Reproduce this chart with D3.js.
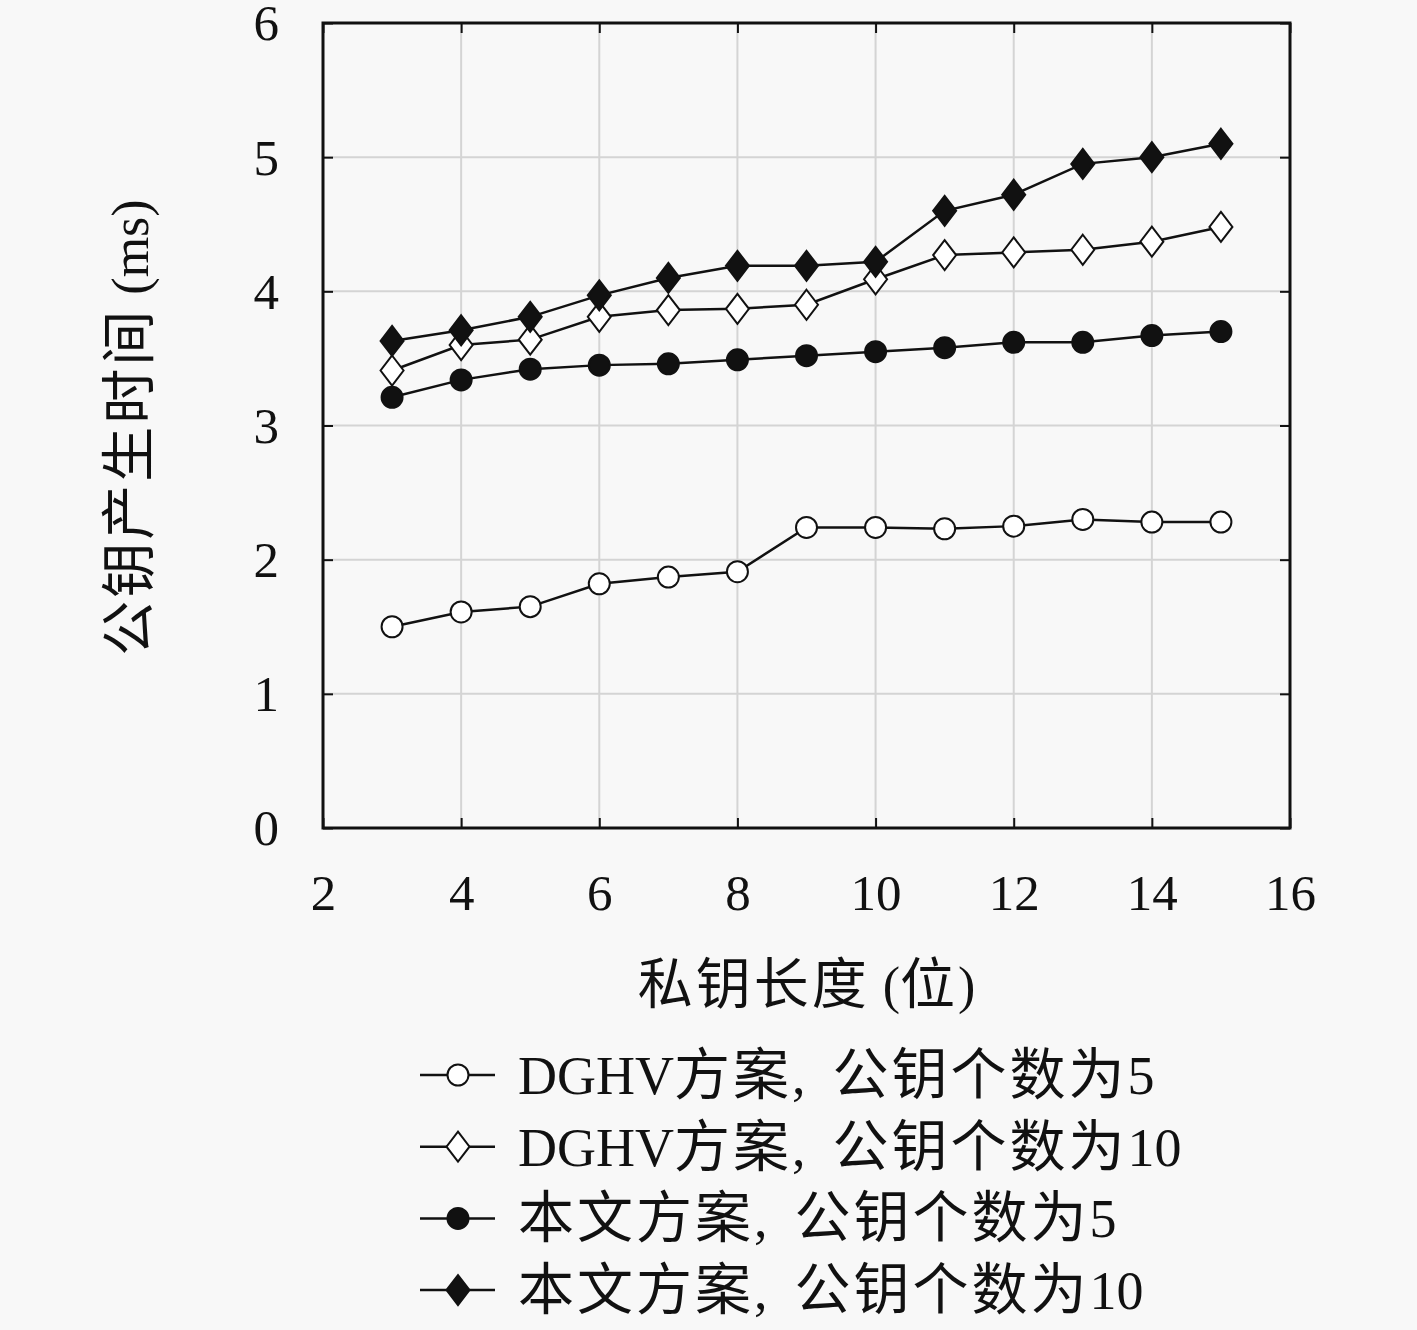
<!DOCTYPE html>
<html>
<head>
<meta charset="utf-8">
<script src="https://cdn.jsdelivr.net/npm/d3@7"></script>
<style>
  body { margin: 0; background: #f8f8f8; }
  text { font-family: "Liberation Serif", "DejaVu Serif", "Noto Sans CJK SC", serif; fill: #111; }
</style>
</head>
<body>
<div id="chart"></div>
<script>
// key length (bits)
const keyLengths = [3, 4, 5, 6, 7, 8, 9, 10, 11, 12, 13, 14, 15];
const dghv5  = [1.50, 1.61, 1.65, 1.82, 1.87, 1.91, 2.24, 2.24, 2.23, 2.25, 2.30, 2.28, 2.28];
const dghv10 = [3.41, 3.60, 3.64, 3.81, 3.86, 3.87, 3.90, 4.09, 4.27, 4.29, 4.31, 4.37, 4.48];
const ours5  = [3.21, 3.34, 3.42, 3.45, 3.46, 3.49, 3.52, 3.55, 3.58, 3.62, 3.62, 3.67, 3.70];
const ours10 = [3.63, 3.71, 3.81, 3.97, 4.10, 4.19, 4.19, 4.22, 4.60, 4.72, 4.95, 5.00, 5.10];

const xTicks = [2, 4, 6, 8, 10, 12, 14, 16];
const yTicks = [0, 1, 2, 3, 4, 5, 6];

const seriesNames = [
  "DGHV方案, 公钥个数为5",
  "DGHV方案, 公钥个数为10",
  "本文方案, 公钥个数为5",
  "本文方案, 公钥个数为10"
];
const seriesValues = [dghv5, dghv10, ours5, ours10];
const seriesShapes = ["circle", "diamond", "circle", "diamond"];
const seriesFilled = [false, false, true, true];

const xLabel = "私钥长度 (位)";
const yLabel = "公钥产生时间 (ms)";

const W = 1417, H = 1330;
const margin = {top: 23, right: 127, bottom: 502, left: 323};
const width = W - margin.left - margin.right;
const height = H - margin.top - margin.bottom;

const svg = d3.select("#chart").append("svg")
  .attr("width", W).attr("height", H);

svg.append("rect").attr("width", W).attr("height", H).attr("fill", "#f8f8f8");

const g = svg.append("g")
  .attr("transform", "translate(" + margin.left + "," + margin.top + ")");

const xScale = d3.scaleLinear().domain([2, 16]).range([0, width]);
const yScale = d3.scaleLinear().domain([0, 6]).range([height, 0]);

// grid
g.append("g").selectAll("line").data(xTicks.slice(1, -1)).join("line")
  .attr("x1", d => xScale(d)).attr("x2", d => xScale(d))
  .attr("y1", 0).attr("y2", height)
  .attr("stroke", "#d4d4d4").attr("stroke-width", 2);
g.append("g").selectAll("line").data(yTicks.slice(1, -1)).join("line")
  .attr("y1", d => yScale(d)).attr("y2", d => yScale(d))
  .attr("x1", 0).attr("x2", width)
  .attr("stroke", "#d4d4d4").attr("stroke-width", 2);

// axes with inward ticks
const tickLen = 10;
const xAxisB = g.append("g").attr("transform", "translate(0," + height + ")")
  .call(d3.axisBottom(xScale).tickValues(xTicks).tickSizeInner(-tickLen).tickSizeOuter(0)
    .tickFormat(d3.format("d")).tickPadding(46));
const xAxisT = g.append("g")
  .call(d3.axisTop(xScale).tickValues(xTicks).tickSizeInner(-tickLen).tickSizeOuter(0).tickFormat(""));
const yAxisL = g.append("g")
  .call(d3.axisLeft(yScale).tickValues(yTicks).tickSizeInner(-tickLen).tickSizeOuter(0)
    .tickFormat(d3.format("d")).tickPadding(44));
const yAxisR = g.append("g").attr("transform", "translate(" + width + ",0)")
  .call(d3.axisRight(yScale).tickValues(yTicks).tickSizeInner(-tickLen).tickSizeOuter(0).tickFormat(""));

[xAxisB, xAxisT, yAxisL, yAxisR].forEach(a => {
  a.select(".domain").remove();
  a.selectAll(".tick line").attr("stroke", "#111").attr("stroke-width", 2);
});
xAxisB.selectAll("text").attr("font-size", 51).attr("fill", "#111");
yAxisL.selectAll("text").attr("font-size", 51).attr("fill", "#111").attr("dy", "0.33em");

// frame
g.append("rect").attr("width", width).attr("height", height)
  .attr("fill", "none").attr("stroke", "#111").attr("stroke-width", 3);

// marker drawing
function drawMarker(sel, shape, filled) {
  if (shape === "circle") {
    sel.append("circle").attr("r", 10.5);
  } else {
    sel.append("path").attr("d", "M0,-15L11.5,0L0,15L-11.5,0Z");
  }
  sel.selectAll("circle,path")
    .attr("fill", filled ? "#111" : "#fff")
    .attr("stroke", "#111").attr("stroke-width", 2);
}

const line = d3.line()
  .x((d, i) => xScale(keyLengths[i]))
  .y(d => yScale(d));

seriesValues.forEach((vals, s) => {
  const sg = g.append("g").attr("class", "series" + s);
  sg.append("path").datum(vals)
    .attr("d", line).attr("fill", "none")
    .attr("stroke", "#111").attr("stroke-width", 2.5);
  sg.selectAll(".marker").data(vals).join("g")
    .attr("class", "marker")
    .attr("transform", (d, i) => "translate(" + xScale(keyLengths[i]) + "," + yScale(d) + ")")
    .each(function () { drawMarker(d3.select(this), seriesShapes[s], seriesFilled[s]); });
});

// mixed text: CJK runs a bit bigger and spaced, like the original typesetting
function mixedText(sel, str, latinSize, cjkSize) {
  sel.attr("font-size", latinSize);
  const runs = str.match(/[\u4e00-\u9fff]+|[^\u4e00-\u9fff]+/g);
  runs.forEach(r => {
    const cjk = /[\u4e00-\u9fff]/.test(r);
    sel.append("tspan")
      .attr("font-size", cjk ? cjkSize : latinSize)
      .attr("font-family", cjk ? "'Noto Sans CJK SC', sans-serif" : null)
      .attr("letter-spacing", cjk ? 3 : null)
      .text(r.replace(/, /g, ",\u2002"));
  });
}

// axis labels
const xl = svg.append("text")
  .attr("x", margin.left + width / 2).attr("y", 1003)
  .attr("text-anchor", "middle");
mixedText(xl, xLabel, 52, 55);

const yl = svg.append("text")
  .attr("transform", "translate(148," + (margin.top + height / 2 + 2) + ") rotate(-90)")
  .attr("text-anchor", "middle");
mixedText(yl, yLabel, 52, 55);

// legend
const legend = svg.append("g").attr("transform", "translate(420,1075)");
seriesNames.forEach((name, s) => {
  const row = legend.append("g").attr("transform", "translate(0," + (s * 71.7) + ")");
  row.append("line").attr("x1", 0).attr("x2", 75)
    .attr("stroke", "#111").attr("stroke-width", 2.5);
  const m = row.append("g").attr("transform", "translate(38,0)");
  drawMarker(m, seriesShapes[s], seriesFilled[s]);
  const t = row.append("text").attr("x", 98).attr("y", 19);
  mixedText(t, name, 54, 56);
});
</script>
</body>
</html>
